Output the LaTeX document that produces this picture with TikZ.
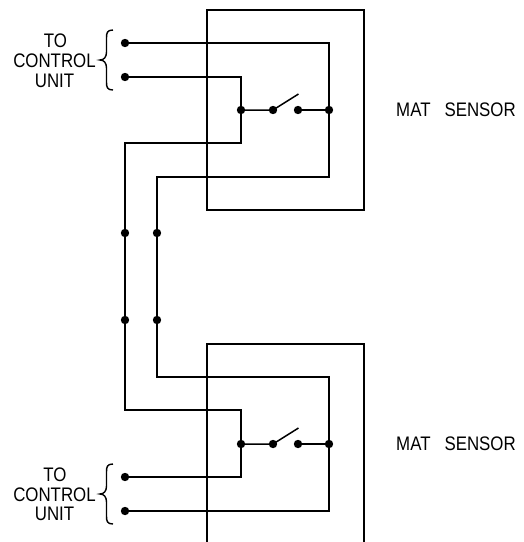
\documentclass[tikz,border=0pt]{standalone}
\usepackage{fontspec}
\setmainfont[FakeStretch=0.86]{Liberation Sans}
\tikzset{
  wire/.style={line width=1.5pt,line join=miter},
  dot/.style={circle,fill=black,inner sep=0pt,minimum size=8.4pt},
  lbl/.style={font=\fontsize{19.6}{20}\selectfont,inner sep=0pt,align=center},
  unitlbl/.style={lbl,text height=14pt,text depth=0pt},
  brace/.style={line width=1.4pt}
}
\begin{document}
\begin{tikzpicture}[x=1pt,y=-1pt]
\useasboundingbox (0,0) rectangle (524,542);
% sensor mats
\coordinate (m1a) at (207,10);
\coordinate (m1b) at (364,10);
\coordinate (m1c) at (364,210);
\coordinate (m1d) at (207,210);
\draw[wire] (m1a) -- (m1b) -- (m1c) -- (m1d) -- cycle;
\coordinate (m2a) at (207,542);
\coordinate (m2b) at (207,344);
\coordinate (m2c) at (364,344);
\coordinate (m2d) at (364,542);
\draw[wire] (m2a) -- (m2b) -- (m2c) -- (m2d);
% terminals and junctions
\node[dot] (t1) at (125,43) {};
\node[dot] (t2) at (125,77) {};
\node[dot] (s1a) at (241,110) {};
\node[dot] (s1b) at (273,110) {};
\node[dot] (s1c) at (298,110) {};
\node[dot] (s1d) at (329,110) {};
\node[dot] (j1) at (125,233) {};
\node[dot] (j2) at (157,233) {};
\node[dot] (j3) at (125,320) {};
\node[dot] (j4) at (157,320) {};
\node[dot] (s2a) at (241,444) {};
\node[dot] (s2b) at (273,444) {};
\node[dot] (s2c) at (298,444) {};
\node[dot] (s2d) at (329,444) {};
\node[dot] (t3) at (125,477) {};
\node[dot] (t4) at (125,511) {};
\coordinate (arm1) at (298.5,94);
\coordinate (arm2) at (298.5,428);
% corners
\coordinate (c1) at (329,43);
\coordinate (c2) at (329,177);
\coordinate (c3) at (157,177);
\coordinate (c4) at (241,77);
\coordinate (c5) at (241,143);
\coordinate (c6) at (125,143);
\coordinate (c7) at (157,377);
\coordinate (c8) at (329,377);
\coordinate (c9) at (329,511);
\coordinate (c10) at (125,410);
\coordinate (c11) at (241,410);
\coordinate (c12) at (241,477);
% wires
\draw[wire] (t1.center) -- (c1) -- (s1d.center) -- (c2) -- (c3) -- (j2.center) -- (j4.center) -- (c7) -- (c8) -- (s2d.center) -- (c9) -- (t4.center);
\draw[wire] (t2.center) -- (c4) -- (s1a.center) -- (c5) -- (c6) -- (j1.center) -- (j3.center) -- (c10) -- (c11) -- (s2a.center) -- (c12) -- (t3.center);
\draw[wire] (s1a.center) -- (s1b.center) -- (arm1);
\draw[wire] (s1c.center) -- (s1d.center);
\draw[wire] (s2a.center) -- (s2b.center) -- (arm2);
\draw[wire] (s2c.center) -- (s2d.center);
% braces
\coordinate (b1t) at (113,30);
\coordinate (b1b) at (113,90);
\coordinate (b2t) at (113,464);
\coordinate (b2b) at (113,524);
\draw[brace] (b1t) .. controls (107,30) and (106.5,33) .. (106.5,38) -- (106.5,52) .. controls (106.5,57) and (104,60) .. (100,60) .. controls (104,60) and (106.5,63) .. (106.5,68) -- (106.5,82) .. controls (106.5,87) and (107,90) .. (b1b);
\draw[brace] (b2t) .. controls (107,464) and (106.5,467) .. (106.5,472) -- (106.5,486) .. controls (106.5,491) and (104,494) .. (100,494) .. controls (104,494) and (106.5,497) .. (106.5,502) -- (106.5,516) .. controls (106.5,521) and (107,524) .. (b2b);
% labels
\node[unitlbl] (l1a) at (55.5,40.5) {TO};
\node[unitlbl] (l1b) at (54.5,60.5) {CONTROL};
\node[unitlbl] (l1c) at (54.5,80.5) {UNIT};
\node[unitlbl] (l2a) at (55,474.5) {TO};
\node[unitlbl] (l2b) at (54.5,494.5) {CONTROL};
\node[unitlbl] (l2c) at (54.5,513.5) {UNIT};
\node[unitlbl] (m1) at (456,109.5) {MAT\hspace{14pt}SENSOR};
\node[unitlbl] (m2) at (456,443.5) {MAT\hspace{14pt}SENSOR};
\end{tikzpicture}
\end{document}
